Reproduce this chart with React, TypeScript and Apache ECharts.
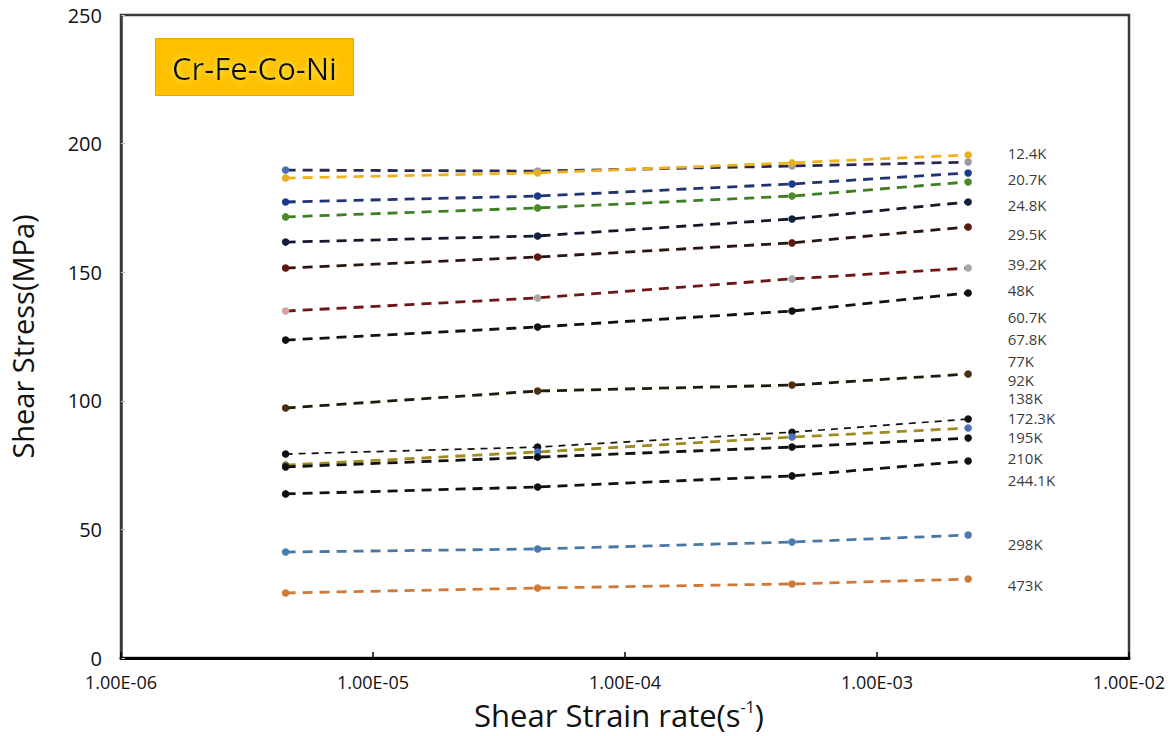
import React, { useEffect, useRef } from "react";
import * as echarts from "echarts";

// Shear strain rates (s^-1) at which stress was measured
const strainRates = [4.5e-6, 4.5e-5, 4.6e-4, 2.3e-3];

// Shear stress (MPa) per curve, top to bottom
const yellowTop = [186.6, 188.6, 192.5, 195.6];
const darkTop = [189.7, 189.3, 191.3, 192.8];
const navy = [177.3, 179.6, 184.3, 188.6];
const green = [171.5, 175.0, 179.6, 185.1];
const darkNavy = [161.7, 164.1, 170.7, 177.3];
const darkBrown = [151.6, 155.9, 161.4, 167.6];
const darkRed = [134.9, 140.0, 147.4, 151.6];
const black1 = [123.6, 128.7, 134.9, 141.9];
const brownBlack = [97.2, 103.8, 106.1, 110.4];
const thinBlack = [79.3, 82.0, 87.8, 92.9];
const olive = [75.0, 80.1, 85.9, 89.4];
const black2 = [74.3, 78.1, 82.0, 85.5];
const black3 = [63.8, 66.5, 70.8, 76.6];
const steelBlue = [41.2, 42.4, 45.1, 47.8];
const orange = [25.3, 27.2, 28.8, 30.7];

// Temperature annotations on the right
const tempLabels = [
  "12.4K", "20.7K", "24.8K", "29.5K", "39.2K", "48K", "60.7K", "67.8K",
  "77K", "92K", "138K", "172.3K", "195K", "210K", "244.1K", "298K", "473K",
];
const tempLabelY = [
  196.3, 186.2, 176.1, 164.9, 153.2, 143.1, 132.6, 124.0,
  115.5, 108.1, 101.1, 93.3, 85.9, 77.8, 69.2, 44.3, 28.4,
];
const tempLabelX = 3.3e-3;

const yTicks = { min: 0, max: 250, interval: 50 };
const xRange = { min: 1e-6, max: 1e-2 };

type Curve = {
  name: string;
  values: number[];
  line: string;
  point: string;
  firstPoint?: string;
  width?: number;
  dash?: number[];
};

const curves: Curve[] = [
  { name: "darkTop", values: darkTop, line: "#2b2850", point: "#9a9aa6", firstPoint: "#4a70b0" },
  { name: "yellowTop", values: yellowTop, line: "#f0b21a", point: "#e8b020" },
  { name: "navy", values: navy, line: "#1f3470", point: "#1f3a8c" },
  { name: "green", values: green, line: "#3f7f22", point: "#4a8a2a" },
  { name: "darkNavy", values: darkNavy, line: "#121a2c", point: "#13203a" },
  { name: "darkBrown", values: darkBrown, line: "#2c1410", point: "#5a1a0c" },
  { name: "darkRed", values: darkRed, line: "#6e1616", point: "#a8a8a8", firstPoint: "#d8a0a0" },
  { name: "black1", values: black1, line: "#111111", point: "#111111" },
  { name: "brownBlack", values: brownBlack, line: "#221a0c", point: "#4a3010" },
  { name: "thinBlack", values: thinBlack, line: "#111111", point: "#111111", width: 1.7, dash: [7, 6] },
  { name: "olive", values: olive, line: "#a08c1e", point: "#4a70c0", firstPoint: "#7a7040" },
  { name: "black2", values: black2, line: "#111111", point: "#111111" },
  { name: "black3", values: black3, line: "#111111", point: "#111111" },
  { name: "steelBlue", values: steelBlue, line: "#4a78a4", point: "#4a7ab0" },
  { name: "orange", values: orange, line: "#d07a3a", point: "#d07a3a" },
];

function fmtExp(v: number): string {
  const e = Math.round(Math.log10(v));
  const sign = e < 0 ? "-" : "+";
  const abs = Math.abs(e);
  return "1.00E" + sign + (abs < 10 ? "0" + abs : String(abs));
}

export default function App() {
  const ref = useRef<HTMLDivElement>(null);

  useEffect(() => {
    document.body.style.margin = "0";
    if (!ref.current) return;
    const chart = echarts.init(ref.current, undefined, { renderer: "svg" });

    const lineSeries = curves.map((c) => ({
      type: "line",
      name: c.name,
      data: strainRates.map((x, i) =>
        i === 0 && c.firstPoint
          ? { value: [x, c.values[i]], itemStyle: { color: c.firstPoint } }
          : { value: [x, c.values[i]] }
      ),
      symbol: "circle",
      symbolSize: 7.5,
      showSymbol: true,
      lineStyle: {
        color: c.line,
        width: c.width ?? 2.8,
        type: c.dash ?? [10, 7],
      },
      itemStyle: { color: c.point, borderWidth: 0 },
      z: 3,
    }));

    const labelSeries = {
      type: "scatter",
      name: "labels",
      symbolSize: 0,
      data: tempLabels.map((t, i) => ({ name: t, value: [tempLabelX, tempLabelY[i]] })),
      label: {
        show: true,
        position: "right",
        distance: 0,
        formatter: "{b}",
        color: "#000",
        fontSize: 15,
        fontFamily: "Open Sans",
      },
      z: 4,
    };

    chart.setOption({
      animation: false,
      backgroundColor: "#ffffff",
      grid: {
        left: 117,
        right: 42,
        top: 15,
        bottom: 78,
        show: true,
        borderColor: "#3a3a3a",
        borderWidth: 2.5,
      },
      xAxis: {
        type: "log",
        logBase: 10,
        min: xRange.min,
        max: xRange.max,
        name: "Shear Strain rate(s{sup|-1})",
        nameLocation: "middle",
        nameGap: 41,
        nameTextStyle: {
          fontSize: 31,
          fontFamily: "Open Sans",
          color: "#111",
          padding: [0, 12, 0, 0],
          rich: {
            sup: { fontSize: 16, verticalAlign: "top", padding: [0, 0, 16, 0], fontFamily: "Open Sans", color: "#111" },
          },
        },
        axisLine: { show: true, lineStyle: { color: "#000", width: 3 } },
        axisTick: { show: true, inside: true, length: 6, lineStyle: { color: "#000", width: 1.5 } },
        minorTick: { show: false },
        splitLine: { show: false },
        axisLabel: {
          formatter: (v: number) => fmtExp(v),
          fontSize: 18,
          fontFamily: "Open Sans",
          color: "#111",
          margin: 15,
          showMinLabel: true,
          showMaxLabel: true,
        },
      },
      yAxis: {
        type: "value",
        min: yTicks.min,
        max: yTicks.max,
        interval: yTicks.interval,
        name: "Shear Stress(MPa)",
        nameLocation: "middle",
        nameGap: 84,
        nameTextStyle: { fontSize: 29, fontFamily: "Open Sans", color: "#111" },
        axisLine: { show: true, lineStyle: { color: "#3a3a3a", width: 2.5 } },
        axisTick: { show: true, inside: true, length: 4, lineStyle: { color: "#bbbbbb", width: 1 } },
        splitLine: { show: false },
        axisLabel: {
          fontSize: 20,
          fontFamily: "Open Sans",
          color: "#111",
          margin: 19,
        },
      },
      graphic: [
        {
          type: "group",
          left: 155,
          top: 38,
          children: [
            {
              type: "rect",
              shape: { x: 0, y: 0, width: 198, height: 57 },
              style: { fill: "#ffc000", stroke: "#e6a800", lineWidth: 1 },
            },
            {
              type: "text",
              x: 99,
              y: 29,
              style: {
                text: "Cr-Fe-Co-Ni",
                fill: "#111",
                fontSize: 31,
                fontFamily: "Open Sans",
                align: "center",
                verticalAlign: "middle",
                textShadowColor: "#fff36a",
                textShadowBlur: 6,
              },
            },
          ],
        },
      ],
      series: [...lineSeries, labelSeries],
    });

    return () => chart.dispose();
  }, []);

  return <div ref={ref} style={{ width: 1171, height: 736 }} />;
}
